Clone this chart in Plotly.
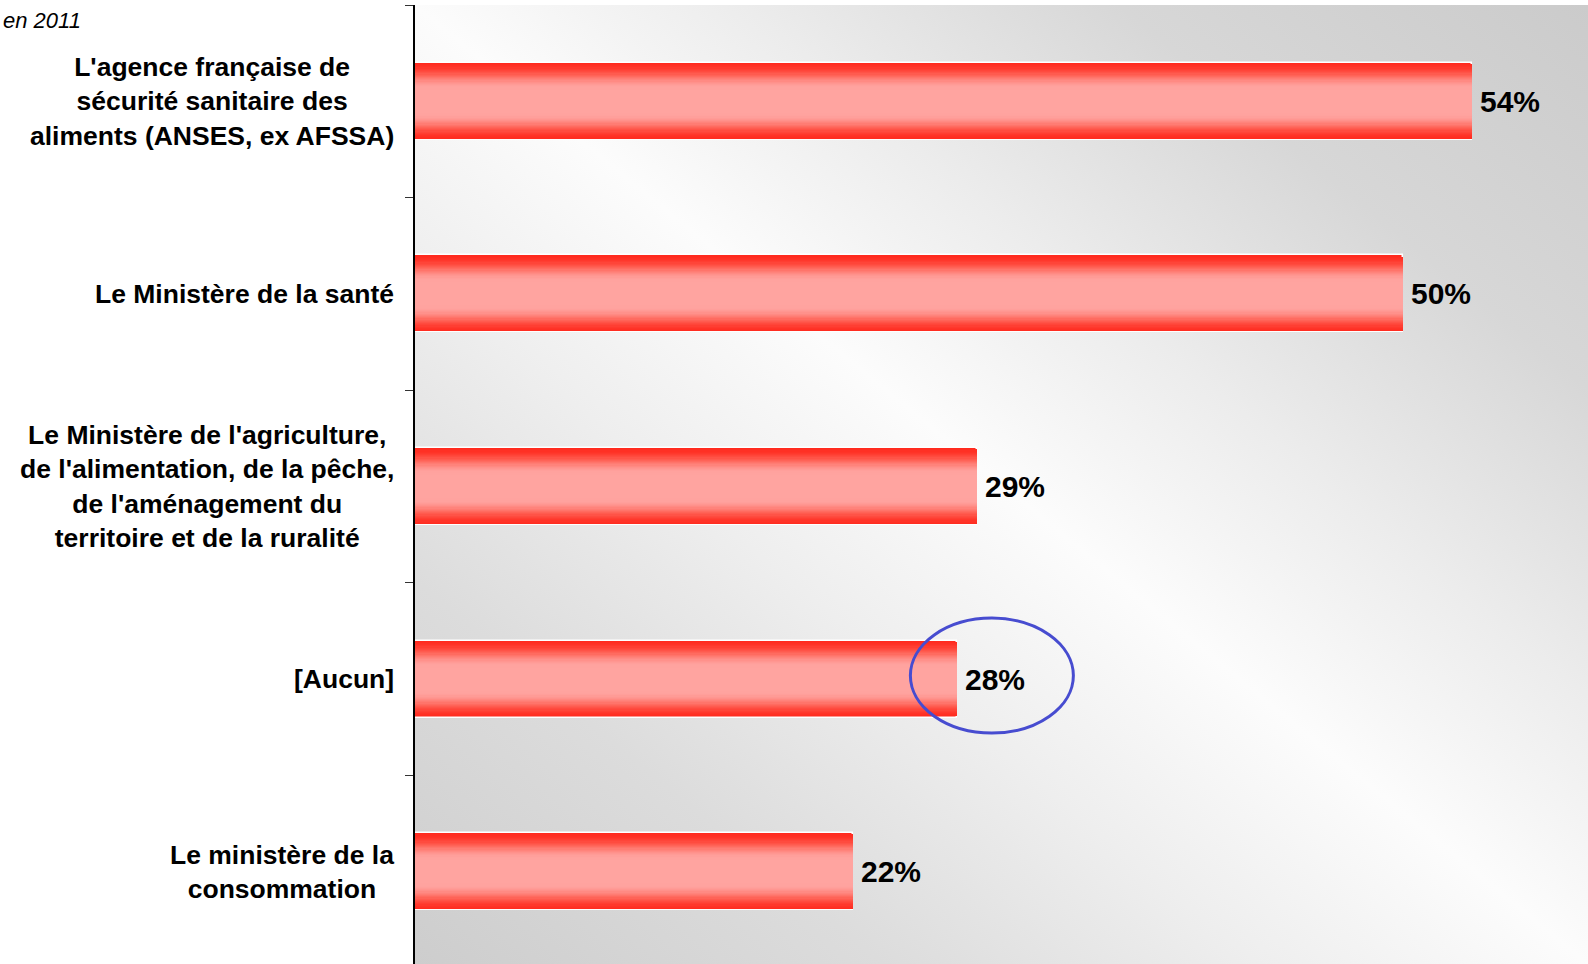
import base64
import plotly.graph_objects as go

# ---------------- data ----------------
categories = [
    "L'agence française de<br>sécurité sanitaire des<br>aliments (ANSES, ex AFSSA)",
    "Le Ministère de la santé",
    "Le Ministère de l'agriculture,<br>de l'alimentation, de la pêche,<br>de l'aménagement du<br>territoire et de la ruralité",
    "[Aucun]",
    "Le ministère de la<br>consommation",
]
values = [53.8, 50.3, 28.6, 27.6, 22.3]
value_labels = ["54%", "50%", "29%", "28%", "22%"]
subtitle = "en 2011"
highlight_index = 3  # "[Aucun]" is circled

# ---------------- style ----------------
FONT = "Liberation Sans"
W, H = 1588, 964
ML, MT = 415, 5
BAR_W = 0.40
x_max = 59.69
positions = list(range(len(categories)))

# bar gradient stops: (distance from bar centre 0..1, rgb)
grad_stops = [
    (0.0, (255, 168, 166)),
    (0.4, (255, 162, 158)),
    (0.5, (255, 148, 142)),
    (0.6, (255, 125, 116)),
    (0.7, (255, 98, 86)),
    (0.8, (255, 72, 60)),
    (0.9, (255, 52, 40)),
    (1.0, (255, 42, 30)),
]


def grad_color(d):
    for (d0, c0), (d1, c1) in zip(grad_stops[:-1], grad_stops[1:]):
        if d0 <= d <= d1:
            t = (d - d0) / (d1 - d0) if d1 > d0 else 0
            c = [round(a + (b - a) * t) for a, b in zip(c0, c1)]
            return "rgb({},{},{})".format(*c)
    return "rgb({},{},{})".format(*grad_stops[-1][1])


fig = go.Figure()

n_layers = 24
for k in range(n_layers):
    d = 1.0 - k * (0.7 / (n_layers - 1))
    fig.add_trace(go.Bar(
        y=positions, x=values, orientation="h",
        width=BAR_W * d,
        marker=dict(color=grad_color(d),
                    line=dict(color="white", width=1.5 if k == 0 else 0)),
        hoverinfo="skip" if k else "x",
        showlegend=False,
    ))

# background gradient (diagonal: grey corners, white band along the diagonal)
svg = (
    '<svg xmlns="http://www.w3.org/2000/svg" width="1174" height="959" '
    'viewBox="0 0 100 100" preserveAspectRatio="none">'
    '<defs><linearGradient id="g" x1="1" y1="0" x2="0" y2="1">'
    '<stop offset="0" stop-color="#cbcbcb"/>'
    '<stop offset="0.2" stop-color="#d7d7d7"/>'
    '<stop offset="0.36" stop-color="#ececec"/>'
    '<stop offset="0.5" stop-color="#fcfcfc"/>'
    '<stop offset="0.64" stop-color="#eeeeee"/>'
    '<stop offset="0.8" stop-color="#dcdcdc"/>'
    '<stop offset="1" stop-color="#cdcdcd"/>'
    '</linearGradient></defs>'
    '<rect x="0" y="0" width="100" height="100" fill="url(#g)"/></svg>'
)
bg_src = "data:image/svg+xml;base64," + base64.b64encode(svg.encode()).decode()

annotations = []
for pos, cat in zip(positions, categories):
    annotations.append(dict(
        xref="paper", x=0, xanchor="right", xshift=-19,
        yref="y", y=pos, yanchor="middle",
        text=cat, align="center", showarrow=False,
        font=dict(family=FONT, size=26.5, color="black", weight="bold"),
    ))
for pos, val, lab in zip(positions, values, value_labels):
    annotations.append(dict(
        xref="x", x=val, xanchor="left", xshift=6,
        yref="y", y=pos, yanchor="middle",
        text=lab, showarrow=False,
        font=dict(family=FONT, size=30, color="black", weight="bold"),
    ))
annotations.append(dict(
    xref="paper", x=-ML / (W - ML), xanchor="left", xshift=1,
    yref="paper", y=1, yanchor="middle", yshift=-15,
    text=subtitle, showarrow=False,
    font=dict(family=FONT, size=22, color="black", style="italic"),
))

plot_h = H - MT
cat_px = 192.6
y_bottom = -0.5 + plot_h / cat_px

fig.update_layout(
    width=W, height=H,
    margin=dict(l=ML, r=0, t=MT, b=0, pad=0),
    paper_bgcolor="white", plot_bgcolor="white",
    barmode="overlay",
    bargap=0,
    showlegend=False,
    xaxis=dict(range=[0, x_max], visible=False, fixedrange=True),
    yaxis=dict(
        range=[y_bottom, -0.5],
        tickmode="array",
        tickvals=[p - 0.5 for p in positions] + [positions[-1] + 0.5],
        showticklabels=False,
        ticks="outside", ticklen=8, tickwidth=1, tickcolor="#333333",
        showline=True, linecolor="black", linewidth=1.5,
        showgrid=False, zeroline=False, fixedrange=True,
    ),
    images=[dict(source=bg_src, xref="paper", yref="paper", x=0, y=1,
                 sizex=1, sizey=1, xanchor="left", yanchor="top",
                 sizing="stretch", layer="below")],
    annotations=annotations,
    shapes=[dict(
        type="circle", xref="x", yref="y",
        xsizemode="pixel", ysizemode="pixel",
        xanchor=values[highlight_index], yanchor=positions[highlight_index],
        x0=-47, x1=116, y0=-54, y1=61,
        line=dict(color="#474cd0", width=3),
        layer="above",
    )],
)

fig.write_html(
    "out.html",
    config={"displayModeBar": False},
    post_script="document.body.style.margin='0';document.body.style.overflow='hidden';",
)
